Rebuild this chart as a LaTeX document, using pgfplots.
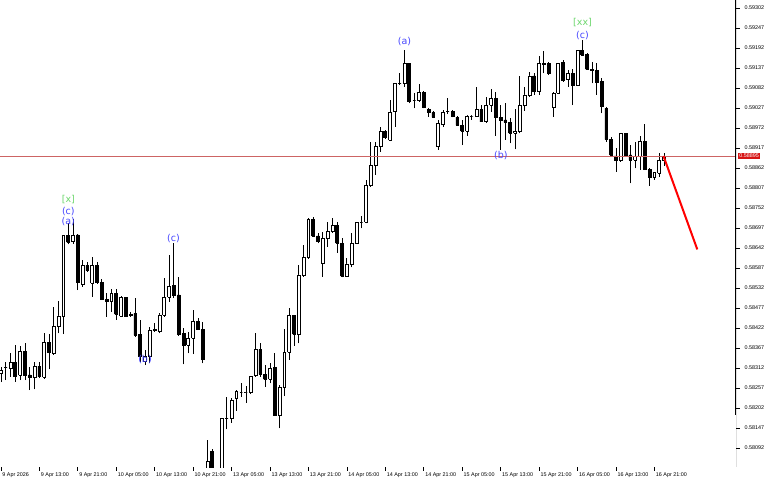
\documentclass[border=0pt]{standalone}
\usepackage{pgfplots}
\usepackage{pgfplotstable}
\usepackage{fontspec}
\setmainfont{Liberation Sans}
\newfontfamily\lblfont{DejaVu Sans}
\pgfplotsset{compat=1.18}
\definecolor{wblue}{RGB}{70,70,255}
\definecolor{wgreen}{RGB}{110,215,110}
\definecolor{pline}{RGB}{205,100,100}
\definecolor{pbox}{RGB}{215,20,20}

\pgfplotstableread{
i o h l c
-8 0.58297 0.58314 0.58273 0.58306
-7 0.58313 0.58329 0.58279 0.58313
-6 0.58311 0.58352 0.58288 0.58327
-5 0.58327 0.58375 0.58274 0.58288
-4 0.58293 0.58372 0.58279 0.58357
-3 0.58357 0.58380 0.58279 0.58293
-2 0.58293 0.58316 0.58251 0.58285
-1 0.58286 0.58329 0.58253 0.58316
0 0.58317 0.58329 0.58284 0.58288
1 0.58286 0.58407 0.58282 0.58382
2 0.58382 0.58405 0.58308 0.58354
3 0.58352 0.58481 0.58348 0.58427
4 0.58427 0.58497 0.58407 0.58455
5 0.58455 0.58678 0.58405 0.58676
6 0.58676 0.58710 0.58652 0.58658
7 0.58659 0.58721 0.58653 0.58676
8 0.58678 0.58680 0.58526 0.58547
9 0.58542 0.58609 0.58536 0.58595
10 0.58595 0.58604 0.58577 0.58580
11 0.58545 0.58618 0.58508 0.58595
12 0.58595 0.58604 0.58543 0.58547
13 0.58547 0.58558 0.58499 0.58501
14 0.58501 0.58517 0.58453 0.58494
15 0.58494 0.58530 0.58467 0.58517
16 0.58517 0.58528 0.58444 0.58460
17 0.58455 0.58510 0.58453 0.58506
18 0.58506 0.58508 0.58453 0.58455
19 0.58458 0.58467 0.58453 0.58460
20 0.58462 0.58505 0.58398 0.58403
21 0.58405 0.58444 0.58329 0.58343
22 0.58329 0.58361 0.58320 0.58343
23 0.58343 0.58426 0.58325 0.58415
24 0.58415 0.58435 0.58411 0.58417
25 0.58412 0.58462 0.58407 0.58458
26 0.58458 0.58559 0.58453 0.58506
27 0.58506 0.58623 0.58494 0.58536
28 0.58538 0.58656 0.58504 0.58513
29 0.58513 0.58561 0.58400 0.58405
30 0.58407 0.58421 0.58322 0.58375
31 0.58375 0.58412 0.58352 0.58394
32 0.58394 0.58472 0.58350 0.58439
33 0.58439 0.58449 0.58417 0.58418
34 0.58418 0.58439 0.58325 0.58336
35 0.58037 0.58114 0.58026 0.58056
36 0.58082 0.58088 0.58015 0.58026
37 0.58026 0.58030 0.58000 0.58010
38 0.58010 0.58175 0.57995 0.58174
39 0.58174 0.58233 0.58143 0.58174
40 0.58174 0.58229 0.58162 0.58224
41 0.58229 0.58251 0.58195 0.58247
42 0.58246 0.58270 0.58233 0.58246
43 0.58246 0.58262 0.58217 0.58246
44 0.58246 0.58290 0.58240 0.58288
45 0.58292 0.58407 0.58288 0.58363
46 0.58363 0.58382 0.58288 0.58295
47 0.58295 0.58320 0.58261 0.58281
48 0.58281 0.58327 0.58270 0.58311
49 0.58313 0.58354 0.58183 0.58183
50 0.58183 0.58265 0.58146 0.58259
51 0.58259 0.58418 0.58235 0.58355
52 0.58355 0.58477 0.58334 0.58457
53 0.58457 0.58457 0.58373 0.58405
54 0.58405 0.58595 0.58380 0.58568
55 0.58568 0.58650 0.58563 0.58615
56 0.58615 0.58724 0.58613 0.58721
57 0.58721 0.58726 0.58673 0.58675
58 0.58675 0.58682 0.58655 0.58659
59 0.58600 0.58687 0.58563 0.58669
60 0.58669 0.58714 0.58646 0.58687
61 0.58687 0.58724 0.58684 0.58705
62 0.58703 0.58714 0.58629 0.58655
63 0.58655 0.58669 0.58561 0.58565
64 0.58565 0.58614 0.58565 0.58598
65 0.58598 0.58682 0.58589 0.58655
66 0.58655 0.58713 0.58653 0.58713
67 0.58713 0.58730 0.58696 0.58713
68 0.58713 0.58829 0.58710 0.58815
69 0.58815 0.58933 0.58811 0.58870
70 0.58870 0.58934 0.58843 0.58921
71 0.58921 0.58976 0.58907 0.58962
72 0.58962 0.58967 0.58942 0.58945
73 0.58939 0.59049 0.58936 0.59015
74 0.59017 0.59095 0.58976 0.59095
75 0.59095 0.59122 0.59090 0.59095
76 0.59095 0.59187 0.59086 0.59150
77 0.59150 0.59150 0.59040 0.59044
78 0.59047 0.59067 0.59026 0.59047
79 0.59047 0.59092 0.59044 0.59070
80 0.59070 0.59074 0.59026 0.59029
81 0.59024 0.59028 0.59003 0.59015
82 0.59014 0.59019 0.58999 0.59002
83 0.58921 0.58994 0.58912 0.58985
84 0.58982 0.59022 0.58976 0.59015
85 0.59017 0.59055 0.59010 0.59017
86 0.59017 0.59022 0.59001 0.59003
87 0.59001 0.59005 0.58978 0.58980
88 0.58980 0.58994 0.58925 0.58964
89 0.58964 0.59008 0.58950 0.59005
90 0.59005 0.59008 0.58994 0.59005
91 0.59005 0.59086 0.59003 0.59023
92 0.59023 0.59035 0.58989 0.58989
93 0.58989 0.59058 0.58987 0.59035
94 0.59035 0.59078 0.59017 0.59054
95 0.59054 0.59070 0.58950 0.59001
96 0.59001 0.59035 0.58912 0.58994
97 0.58994 0.59040 0.58939 0.58988
98 0.58988 0.58999 0.58930 0.58957
99 0.58957 0.59023 0.58913 0.58963
100 0.58964 0.59115 0.58957 0.59034
101 0.59035 0.59086 0.59020 0.59063
102 0.59063 0.59127 0.59058 0.59115
103 0.59115 0.59122 0.59063 0.59072
104 0.59072 0.59170 0.59063 0.59150
105 0.59150 0.59185 0.59122 0.59148
106 0.59150 0.59154 0.59118 0.59121
107 0.59029 0.59072 0.59003 0.59067
108 0.59067 0.59152 0.59066 0.59150
109 0.59152 0.59159 0.59099 0.59102
110 0.59106 0.59132 0.59086 0.59122
111 0.59122 0.59133 0.59035 0.59090
112 0.59090 0.59187 0.59088 0.59185
113 0.59185 0.59214 0.59170 0.59173
114 0.59175 0.59177 0.59132 0.59133
115 0.59133 0.59154 0.59095 0.59130
116 0.59130 0.59150 0.59063 0.59098
117 0.59099 0.59109 0.59012 0.59031
118 0.59026 0.59031 0.58934 0.58941
119 0.58941 0.58948 0.58893 0.58898
120 0.58895 0.58916 0.58852 0.58882
121 0.58882 0.58959 0.58879 0.58956
122 0.58956 0.58959 0.58893 0.58898
123 0.58898 0.58925 0.58820 0.58884
124 0.58884 0.58934 0.58861 0.58893
125 0.58893 0.58950 0.58857 0.58936
126 0.58936 0.58982 0.58857 0.58858
127 0.58858 0.58861 0.58813 0.58835
128 0.58835 0.58852 0.58829 0.58849
129 0.58847 0.58902 0.58838 0.58882
130 0.58882 0.58902 0.58868 0.58895
}\candles

\pgfplotstablegetrowsof{\candles}
\pgfmathtruncatemacro{\lastrow}{\pgfplotsretval-1}

\begin{document}
\begin{tikzpicture}
\useasboundingbox (0pt,0pt) rectangle (768pt,480pt);
\begin{axis}[
  at={(0pt,480pt)}, anchor=north west,
  scale only axis, width=736pt, height=467pt,
  xmin=-8.179, xmax=144.995,
  ymin=0.5803975, ymax=0.59324,
  clip mode=individual,
  axis line style={draw=none},
  xtick pos=left, ytick pos=right,
  xticklabel pos=left, yticklabel pos=right,
  tick align=outside,
  major tick length=3.5pt,
  tick style={black, line width=0.5pt},
  minor tick num=0,
  scaled y ticks=false,
  xtick={-8,0,...,128},
  xticklabels={9 Apr 2026,9 Apr 13:00,9 Apr 21:00,10 Apr 05:00,10 Apr 13:00,10 Apr 21:00,13 Apr 05:00,13 Apr 13:00,13 Apr 21:00,14 Apr 05:00,14 Apr 13:00,14 Apr 21:00,15 Apr 05:00,15 Apr 13:00,15 Apr 21:00,16 Apr 05:00,16 Apr 13:00,16 Apr 21:00},
  ytick={0.58092,0.58147,0.58202,0.58257,0.58312,0.58367,0.58422,0.58477,0.58532,0.58587,0.58642,0.58697,0.58752,0.58807,0.58862,0.58917,0.58972,0.59027,0.59082,0.59137,0.59192,0.59247,0.59302},
  yticklabels={0.58092,0.58147,0.58202,0.58257,0.58312,0.58367,0.58422,0.58477,0.58532,0.58587,0.58642,0.58697,0.58752,0.58807,0.58862,0.58917,0.58972,0.59027,0.59082,0.59137,0.59192,0.59247,0.59302},
  ticklabel style={font=\fontsize{5.4}{6}\selectfont},
  xticklabel style={anchor=north west, inner sep=0pt, xshift=1.4pt, yshift=-2.5pt},
  yticklabel style={anchor=west, inner sep=0pt, xshift=5pt},
]
\pgfplotsinvokeforeach{0,...,\lastrow}{
  \pgfplotstablegetelem{#1}{i}\of\candles \let\candI\pgfplotsretval
  \pgfplotstablegetelem{#1}{o}\of\candles \let\candO\pgfplotsretval
  \pgfplotstablegetelem{#1}{h}\of\candles \let\candH\pgfplotsretval
  \pgfplotstablegetelem{#1}{l}\of\candles \let\candL\pgfplotsretval
  \pgfplotstablegetelem{#1}{c}\of\candles \let\candC\pgfplotsretval
  \ifdim\candC pt<\candO pt
    \def\candFill{black}\let\candLo\candC\let\candHi\candO
  \else
    \def\candFill{white}\let\candLo\candO\let\candHi\candC
  \fi
  \pgfmathsetmacro{\candXl}{\candI-0.3}
  \pgfmathsetmacro{\candXr}{\candI+0.3}
  \edef\doplot{%
    \noexpand\addplot[black, line width=0.7pt, mark=none] coordinates {(\candI,\candL) (\candI,\candH)};%
    \noexpand\addplot[draw=black, fill=\candFill, line width=0.7pt, mark=none, line join=miter] coordinates {(\candXl,\candLo) (\candXr,\candLo) (\candXr,\candHi) (\candXl,\candHi) (\candXl,\candLo)};%
  }%
  \doplot
}
% current price line
\addplot[pline, line width=0.6pt] coordinates {(-8.179,0.58895) (144.995,0.58895)};
% projection line
\addplot[red, line width=2pt] coordinates {(129.9,0.58895) (136.94,0.58638)};
% right scale line
\addplot[black, line width=1.6pt] coordinates {(144.995,0.59324) (144.995,0.58183)};
\addplot[black, line width=0.7pt] coordinates {(144.995,0.58183) (144.995,0.5803975)};
% price label
\node[fill=pbox, text=white, inner xsep=1.3pt, inner ysep=1.2pt, anchor=west, xshift=1.8pt, font=\fontsize{5.4}{6}\selectfont] at (axis cs:144.995,0.58895) {0.58895};
% wave labels
\begin{scope}[every node/.style={font=\lblfont\fontsize{9.5}{10}\selectfont, inner sep=0pt}]
\node[text=wgreen] at (axis cs:6.04,0.58774) {[x]};
\node[text=wblue] at (axis cs:6.04,0.58742) {(c)};
\node[text=wblue] at (axis cs:6.04,0.58714) {(a)};
\node[text=wblue] at (axis cs:22.0,0.58334) {(b)};
\node[text=wblue] at (axis cs:27.93,0.58667) {(c)};
\node[text=wblue] at (axis cs:76.0,0.59209) {(a)};
\node[text=wblue] at (axis cs:96.05,0.58896) {(b)};
\node[text=wgreen] at (axis cs:113.05,0.59262) {[xx]};
\node[text=wblue] at (axis cs:113.05,0.59226) {(c)};
\end{scope}
\end{axis}
\end{tikzpicture}
\end{document}
